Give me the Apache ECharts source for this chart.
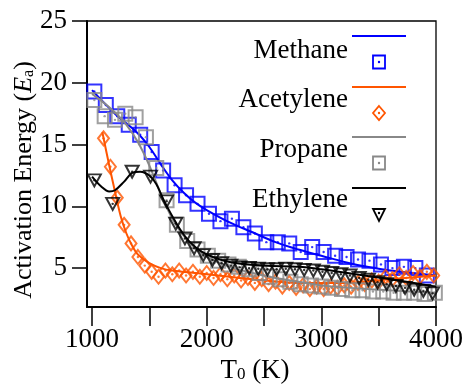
<!DOCTYPE html>
<html>
<head>
<meta charset="utf-8">
<script src="https://cdn.jsdelivr.net/npm/echarts@6/dist/echarts.min.js"></script>
<style>
html,body{margin:0;padding:0;background:#fff;}
#chart{width:466px;height:385px;}
</style>
</head>
<body>
<div id="chart"></div>
<script>
// ---- data ----
const seriesNames = ['Methane', 'Acetylene', 'Propane', 'Ethylene'];
const seriesColors = ['#0000ff', '#ff5500', '#888888', '#000000'];

const xTickValues = [1000, 1500, 2000, 2500, 3000, 3500, 4000];
const xLabelValues = [1000, 2000, 3000, 4000];
const yTickValues = [5, 10, 15, 20, 25];

// Methane points
const methaneT = [1020,1120,1220,1320,1420,1520,1620,1720,1820,1920,2020,2120,2220,2320,2420,2520,2620,2720,2820,2920,3020,3120,3220,3320,3420,3520,3620,3720,3820,3920];
const methaneE = [19.3,18.2,17.3,16.6,15.8,14.4,12.9,11.7,10.9,10.2,9.4,8.8,9.0,8.3,7.8,7.1,7.1,7.0,6.3,6.7,6.3,6.0,5.9,5.7,5.6,5.3,5.0,5.1,5.0,4.4];
// Methane fitted line
const methaneFitT = [1000,1200,1400,1500,1600,1700,1800,1900,2000,2200,2400,2600,2800,3000,3200,3400,3600,3800,4000];
const methaneFitE = [19.4,17.5,15.9,14.8,13.4,12.1,11.1,10.3,9.7,8.7,7.9,7.1,6.5,6.0,5.5,5.1,4.8,4.6,4.4];

// Acetylene points
const acetyleneT = [1100,1160,1220,1280,1340,1400,1460,1520,1580,1640,1700,1760,1820,1880,1940,2000,2060,2120,2180,2240,2300,2360,2420,2480,2540,2600,2660,2720,2780,2840,2900,2960,3020,3080,3140,3200,3260,3320,3380,3440,3500,3560,3620,3680,3740,3800,3860,3920,3980];
const acetyleneE = [15.5,13.2,10.7,8.5,7.0,5.9,5.2,4.7,4.3,4.8,4.5,4.8,4.4,4.7,4.3,4.6,4.2,4.5,4.1,4.4,4.0,4.2,3.8,4.1,3.7,3.9,3.5,3.8,3.4,3.6,3.3,3.5,3.3,3.5,3.4,3.6,3.5,3.8,3.7,4.0,3.9,4.3,4.1,4.5,4.2,4.6,4.3,4.7,4.4];
const acetyleneFitT = [1090,1150,1200,1250,1300,1350,1400,1500,1600,1700,2000,2400,2800,3200,3600,4000];
const acetyleneFitE = [16.0,13.3,11.2,9.2,7.8,6.8,6.1,5.4,5.0,4.8,4.5,4.1,3.8,3.8,4.1,4.4];

// Propane points
const propaneT = [1020,1110,1200,1290,1380,1470,1560,1650,1740,1830,1920,2010,2100,2190,2280,2370,2460,2550,2640,2730,2820,2910,3000,3090,3180,3270,3360,3450,3540,3630,3720,3810,3900,3990];
const propaneE = [18.6,17.3,17.0,17.5,17.2,15.6,13.1,10.5,8.5,7.2,6.5,6.0,5.6,5.3,5.1,4.9,4.6,4.3,4.1,3.9,3.7,3.6,3.5,3.4,3.3,3.2,3.2,3.1,3.1,3.0,3.0,3.0,2.9,3.0];
const propaneFitT = [1000,1100,1200,1300,1400,1500,1600,1700,1800,1900,2000,2200,2400,2600,2800,3000,3400,4000];
const propaneFitE = [19.1,18.4,17.6,16.6,15.2,13.3,11.0,9.0,7.6,6.6,5.9,5.1,4.6,4.2,3.9,3.6,3.3,3.0];

// Ethylene points
const ethyleneT = [1020,1180,1350,1510,1650,1730,1810,1890,1970,2050,2130,2210,2290,2370,2450,2530,2610,2690,2770,2850,2930,3010,3090,3170,3250,3330,3410,3490,3570,3650,3730,3810,3890,3970];
const ethyleneE = [12.1,10.2,12.8,12.4,10.4,8.6,7.4,6.6,6.05,5.65,5.4,5.2,5.06,5.0,4.95,4.9,4.9,4.95,4.9,4.85,4.8,4.7,4.6,4.5,4.4,4.2,4.05,3.85,3.7,3.55,3.4,3.25,3.15,2.95];
const ethyleneFitT = [1000,1080,1150,1200,1280,1350,1420,1500,1560,1620,1700,1800,1900,2000,2200,2500,2800,3000,3300,3600,4000];
const ethyleneFitE = [12.4,11.6,11.2,11.3,12.0,12.7,12.8,12.5,11.8,10.6,9.2,7.7,6.7,6.1,5.5,5.2,5.1,4.9,4.5,4.1,3.5];

const pointsT = [methaneT, acetyleneT, propaneT, ethyleneT];
const pointsE = [methaneE, acetyleneE, propaneE, ethyleneE];
const fitT = [methaneFitT, acetyleneFitT, propaneFitT, ethyleneFitT];
const fitE = [methaneFitE, acetyleneFitE, propaneFitE, ethyleneFitE];
const symbols = ['rect', 'diamond', 'rect', 'triangle'];
const symbolSizes = [[14, 14], [11, 14], [14, 14], [13, 12]];
const symbolRotates = [0, 0, 0, 180];

const zip = (a, b) => a.map((v, i) => [v, b[i]]);
const FONT = 'Liberation Serif';

const series = [];
seriesNames.forEach((name, i) => {
  series.push({
    name: name, type: 'line', data: zip(fitT[i], fitE[i]), smooth: 0.35,
    showSymbol: false, lineStyle: { color: seriesColors[i], width: 2 }, z: 2 + i * 3, silent: true
  });
  series.push({
    name: name + ' pts', type: 'scatter', data: zip(pointsT[i], pointsE[i]),
    symbol: symbols[i], symbolSize: symbolSizes[i], symbolRotate: symbolRotates[i],
    itemStyle: { color: 'rgba(255,255,255,0)', borderColor: seriesColors[i], borderWidth: 2 },
    z: 3 + i * 3, silent: true
  });
  series.push({
    name: name + ' dots', type: 'scatter', data: zip(pointsT[i], pointsE[i]),
    symbol: 'circle', symbolSize: 2.4, itemStyle: { color: seriesColors[i] },
    z: 4 + i * 3, silent: true
  });
});

// legend drawn with graphic elements (line above marker, text at left)
const legendGraphics = [];
const legTextY = [51, 100, 150, 200];
const legLineY = [36, 87, 137, 188];
const legMarkY = [62, 113, 163, 215];
seriesNames.forEach((name, i) => {
  const c = seriesColors[i];
  legendGraphics.push({ type: 'text', x: 348, y: legTextY[i], style: { text: name, font: '27px ' + FONT, fill: '#000', align: 'right', verticalAlign: 'middle' } });
  legendGraphics.push({ type: 'line', shape: { x1: 352, y1: legLineY[i], x2: 406, y2: legLineY[i] }, style: { stroke: c, lineWidth: 2 } });
  const cx = 379, cy = legMarkY[i];
  if (symbols[i] === 'rect') {
    legendGraphics.push({ type: 'rect', shape: { x: cx - 6, y: cy - 6.5, width: 12, height: 13 }, style: { fill: 'none', stroke: c, lineWidth: 1.8 } });
  } else if (symbols[i] === 'diamond') {
    legendGraphics.push({ type: 'polygon', shape: { points: [[cx, cy - 7], [cx + 6, cy], [cx, cy + 7], [cx - 6, cy]] }, style: { fill: 'none', stroke: c, lineWidth: 1.8 } });
  } else {
    legendGraphics.push({ type: 'polygon', shape: { points: [[cx - 6, cy - 6], [cx + 6, cy - 6], [cx, cy + 6]] }, style: { fill: 'none', stroke: c, lineWidth: 1.8 } });
  }
  legendGraphics.push({ type: 'circle', shape: { cx: cx, cy: symbols[i] === 'triangle' ? cy - 2 : cy, r: 1.2 }, style: { fill: c } });
});

const chart = echarts.init(document.getElementById('chart'), null, { renderer: 'canvas' });
chart.setOption({
  animation: false,
  backgroundColor: '#fff',
  grid: { left: 87, right: 30, top: 21, bottom: 78, show: true, borderColor: '#000', borderWidth: 1.3,
          backgroundColor: 'transparent', containLabel: false, outerBoundsMode: 'none' },
  xAxis: {
    type: 'value', min: 956, max: 4000,
    name: 'T{sub|0} (K)', nameLocation: 'middle', nameGap: 50, nameMoveOverlap: false,
    nameTextStyle: { fontFamily: FONT, fontSize: 27, color: '#000', padding: [0, 13, 0, 0],
      rich: { sub: { fontFamily: FONT, fontSize: 17, color: '#000', padding: [9, 0, 0, 0] } } },
    axisLine: { lineStyle: { color: '#000', width: 2 } },
    axisTick: { customValues: xTickValues, length: 19, lineStyle: { color: '#000', width: 1.5 } },
    axisLabel: { customValues: xLabelValues, formatter: v => String(v), fontFamily: FONT, fontSize: 27, color: '#000', margin: 19 },
    splitLine: { show: false }
  },
  yAxis: {
    type: 'value', min: 1.85, max: 25,
    name: 'Activation Energy ({i|E}{sub|a})', nameLocation: 'middle', nameGap: 50, nameMoveOverlap: false,
    nameTextStyle: { fontFamily: FONT, fontSize: 26, color: '#000', padding: [0, 32, 0, 0],
      rich: { i: { fontFamily: FONT, fontSize: 26, fontStyle: 'italic', color: '#000' },
              sub: { fontFamily: FONT, fontSize: 16, color: '#000', padding: [9, 0, 0, 0] } } },
    axisLine: { lineStyle: { color: '#000', width: 2 } },
    axisTick: { customValues: yTickValues, length: 15, lineStyle: { color: '#000', width: 1.5 } },
    axisLabel: { customValues: yTickValues, formatter: v => String(v), fontFamily: FONT, fontSize: 27, color: '#000', margin: 20 },
    splitLine: { show: false }
  },
  series: series,
  graphic: legendGraphics
});
</script>
</body>
</html>
